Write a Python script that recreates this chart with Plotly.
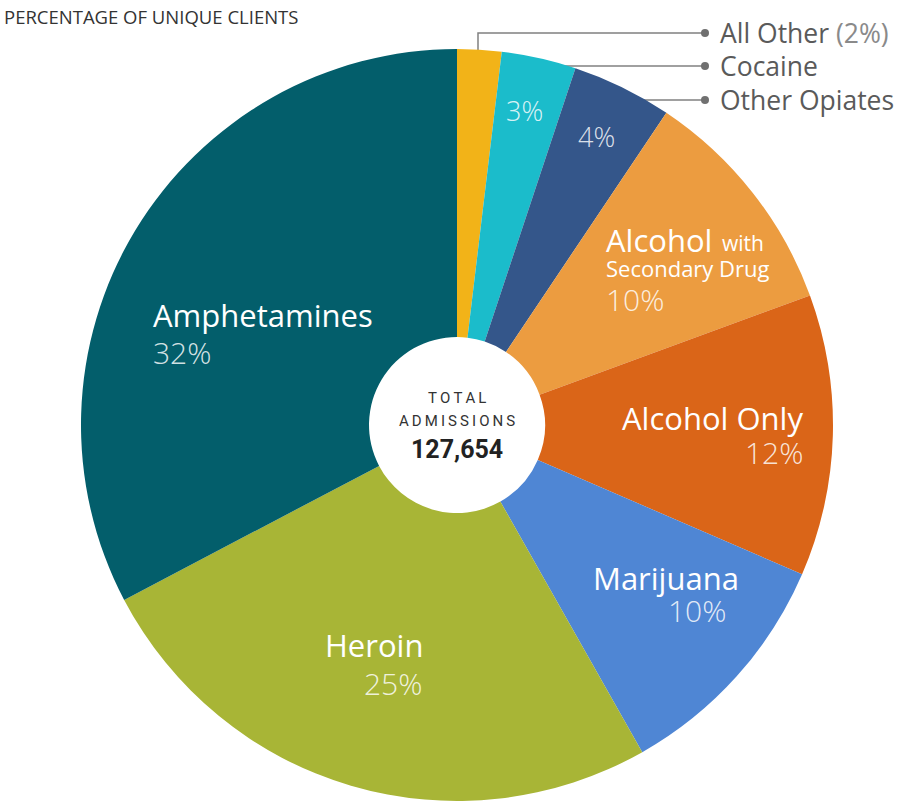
import plotly.graph_objects as go

W, H = 902, 802

# ---- data ----
categories = ["All Other", "Cocaine", "Other Opiates", "Alcohol with Secondary Drug",
              "Alcohol Only", "Marijuana", "Heroin", "Amphetamines"]
shares = [1.9, 3.2, 4.3, 10.0, 12.1, 10.3, 25.5, 32.7]
pct_labels = ["2%", "3%", "4%", "10%", "12%", "10%", "25%", "32%"]
slice_colors = ["#F2B318", "#1BBCCB", "#34568A", "#EC9C40",
                "#DA6518", "#4F86D4", "#A8B536", "#035E6B"]
total_admissions = "127,654"
title_text = "PERCENTAGE OF UNIQUE CLIENTS"

# pie geometry (pixels)
cx, cy, R = 457, 425, 376

fig = go.Figure(go.Pie(
    labels=categories, values=shares, sort=False, direction="clockwise",
    rotation=0, hole=0.234, textinfo="none", hoverinfo="label+percent",
    marker=dict(colors=slice_colors, line=dict(width=0)),
    domain=dict(x=[(cx - R) / W, (cx + R) / W], y=[(H - cy - R) / H, (H - cy + R) / H]),
    showlegend=False,
))

FONT = "Open Sans, Noto Sans, sans-serif"
PCT_COL = "rgba(255,255,255,0.84)"


def ann(text, x, y, size, color="white", xanchor="center", family=FONT, weight=None):
    f = dict(size=size, color=color, family=family)
    if weight is not None:
        f["weight"] = weight
    fig.add_annotation(text=text, x=x / W, y=1 - y / H, xref="paper", yref="paper",
                       xanchor=xanchor, yanchor="middle", showarrow=False, font=f)


# title
ann(title_text, 2, 17, 18.5, color="#333333", xanchor="left")

# inside labels
ann(categories[7], 151, 315, 31, xanchor="left")
ann(pct_labels[7], 151, 352, 30, color=PCT_COL, xanchor="left", weight=300)

ann(categories[6], 374, 645, 31)
ann(pct_labels[6], 424, 683, 30, color=PCT_COL, xanchor="right", weight=300)

ann(categories[5], 666, 578, 31)
ann(pct_labels[5], 697, 610, 30, color=PCT_COL, weight=300)

ann(categories[4], 805, 418, 31, xanchor="right")
ann(pct_labels[4], 805, 453, 30, color=PCT_COL, xanchor="right", weight=300)

ann("Alcohol", 604, 240, 31, xanchor="left")
ann("with", 720, 243, 21, xanchor="left")
ann("Secondary Drug", 604, 268, 22, xanchor="left")
ann(pct_labels[3], 604, 299, 30, color=PCT_COL, xanchor="left", weight=300)

ann(pct_labels[1], 524, 110, 27, color=PCT_COL, weight=300)
ann(pct_labels[2], 596, 136, 27, color=PCT_COL, weight=300)

# center
NARROW = "Liberation Sans Narrow, Roboto, sans-serif"
sp = "\u2009"
ann(sp.join("TOTAL"), cx, 398, 15, color="#333333", family=NARROW)
ann(sp.join("ADMISSIONS"), cx, 421, 15, color="#333333", family=NARROW)
ann("<b>" + total_admissions + "</b>", cx, 449, 25, color="#222222", family=NARROW)

# callouts for small slices
LINE = dict(color="#808080", width=1.5)
callouts = [
    (categories[0], 33, "M 478 60 L 478 33 L 705 33"),
    (categories[1], 66, "M 540 66 L 705 66"),
    (categories[2], 100, "M 620 100 L 705 100"),
]
for name, yy, path in callouts:
    parts = path.split()
    out = []
    i = 0
    while i < len(parts):
        cmd = parts[i]
        px, py = float(parts[i + 1]), float(parts[i + 2])
        out.append(f"{cmd} {px / W:.5f} {1 - py / H:.5f}")
        i += 3
    fig.add_shape(type="path", path=" ".join(out), xref="paper", yref="paper",
                  line=LINE, layer="below")
    r = 4
    fig.add_shape(type="circle", xref="paper", yref="paper",
                  x0=(705 - r) / W, x1=(705 + r) / W, y0=1 - (yy + r) / H, y1=1 - (yy - r) / H,
                  fillcolor="#707070", line=dict(width=0))

ann(categories[0] + " <span style='color:#8a8a8a'>(" + pct_labels[0] + ")</span>",
    718, 33, 26.5, color="#5a5a5a", xanchor="left")
ann(categories[1], 718, 66, 26.5, color="#5a5a5a", xanchor="left")
ann(categories[2], 718, 100, 26.5, color="#5a5a5a", xanchor="left")

fig.update_layout(width=W, height=H, margin=dict(l=0, r=0, t=0, b=0),
                  paper_bgcolor="white", plot_bgcolor="white")

fig.write_html("out.html", config={"displayModeBar": False},
               post_script="document.body.style.margin='0';")
